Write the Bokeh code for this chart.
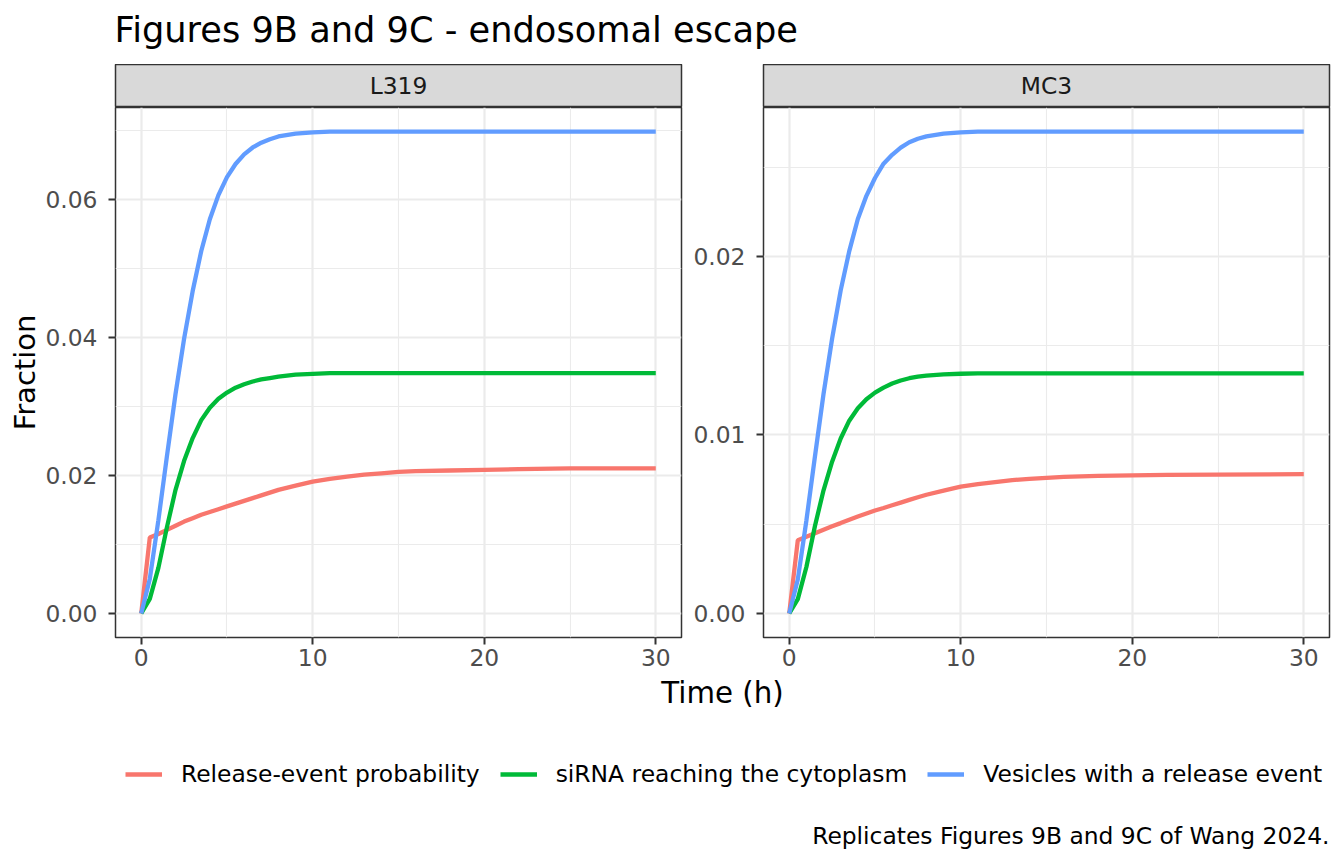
from bokeh.plotting import figure
from bokeh.layouts import column, row
from bokeh.models import (Range1d, FixedTicker, PrintfTickFormatter, Label,
                          Legend, LegendItem)
from bokeh.embed import file_html
from bokeh.resources import INLINE

# ---------------- data ----------------
time_h = [0, 0.5, 1, 1.5, 2, 2.5, 3, 3.5, 4, 4.5, 5, 5.5, 6, 6.5, 7, 7.5, 8,
          9, 10, 11, 12, 13, 14, 15, 16, 18, 20, 22, 25, 30]

series_names = ["Release-event probability", "siRNA reaching the cytoplasm",
                "Vesicles with a release event"]
series_colors = ["#F8766D", "#00BA38", "#619CFF"]
panel_names = ["L319", "MC3"]

l319_release = [0, 0.0110, 0.0115, 0.0121, 0.0127, 0.0133, 0.0138, 0.0143, 0.0147,
                0.0151, 0.0155, 0.0159, 0.0163, 0.0167, 0.0171, 0.0175, 0.0179,
                0.0185, 0.0191, 0.0195, 0.0198, 0.0201, 0.0203, 0.0205, 0.0206,
                0.0207, 0.0208, 0.0209, 0.0210, 0.0210]
l319_sirna = [0, 0.0021, 0.0066, 0.0125, 0.0179, 0.0221, 0.0254, 0.0280, 0.0298,
              0.0311, 0.0320, 0.0327, 0.0332, 0.0336, 0.0339, 0.0341, 0.0343,
              0.0346, 0.0347, 0.0348, 0.0348, 0.0348, 0.0348, 0.0348, 0.0348,
              0.0348, 0.0348, 0.0348, 0.0348, 0.0348]
l319_vesicles = [0, 0.0050, 0.0135, 0.0228, 0.0318, 0.0398, 0.0467, 0.0525, 0.0571,
                 0.0606, 0.0632, 0.0651, 0.0665, 0.0675, 0.0682, 0.0687, 0.0691,
                 0.0695, 0.0697, 0.0698, 0.0698, 0.0698, 0.0698, 0.0698, 0.0698,
                 0.0698, 0.0698, 0.0698, 0.0698, 0.0698]

mc3_release = [0, 0.00410, 0.00429, 0.00449, 0.00469, 0.00488, 0.00506, 0.00525,
               0.00543, 0.00560, 0.00577, 0.00591, 0.00606, 0.00621, 0.00636,
               0.00651, 0.00665, 0.00688, 0.00710, 0.00725, 0.00736, 0.00747,
               0.00754, 0.00760, 0.00765, 0.00771, 0.00774, 0.00776, 0.00778,
               0.00780]
mc3_sirna = [0, 0.0008, 0.0026, 0.0049, 0.0069, 0.0085, 0.0098, 0.0108, 0.0115,
             0.01200, 0.01237, 0.01265, 0.01288, 0.01305, 0.01318, 0.01327,
             0.01333, 0.01340, 0.01343, 0.01345, 0.01345, 0.01345, 0.01345,
             0.01345, 0.01345, 0.01345, 0.01345, 0.01345, 0.01345, 0.01345]
mc3_vesicles = [0, 0.0019, 0.0052, 0.0088, 0.0123, 0.0154, 0.0181, 0.0203, 0.0221,
                0.0234, 0.0244, 0.0252, 0.0257, 0.0261, 0.0264, 0.0266, 0.02673,
                0.02688, 0.02696, 0.0270, 0.0270, 0.0270, 0.0270, 0.0270, 0.0270,
                0.0270, 0.0270, 0.0270, 0.0270, 0.0270]

x_ticks = [0, 10, 20, 30]
x_minor = [5, 15, 25]
l319_yticks = [0.00, 0.02, 0.04, 0.06]
l319_yminor = [0.01, 0.03, 0.05, 0.07]
mc3_yticks = [0.00, 0.01, 0.02]
mc3_yminor = [0.005, 0.015, 0.025]

title_text = "Figures 9B and 9C - endosomal escape"
x_title = "Time (h)"
y_title = "Fraction"
caption_text = "Replicates Figures 9B and 9C of Wang 2024."

# ---------------- style ----------------
FONT = "DejaVu Sans"
SMALL = "23.4px"
TOTAL_W = 1336
TITLE_H = 64
STRIP_H = 43
PANEL_H = 569
BOTTOM_H = 856 - TITLE_H - STRIP_H - PANEL_H
LEFT_W, RIGHT_W = 689, 647
LEFT_BL, LEFT_BR = 115, 8
RIGHT_BL, RIGHT_BR = 74, 7


def strip_fig(name, width, bl, br):
    s = figure(width=width, height=STRIP_H, title=None, toolbar_location=None,
               output_backend="svg", x_axis_type=None, y_axis_type=None,
               x_range=Range1d(0, 1), y_range=Range1d(0, 1),
               min_border_left=bl, min_border_right=br, min_border_top=0,
               min_border_bottom=0)
    s.background_fill_color = "#D9D9D9"
    s.border_fill_color = "white"
    s.outline_line_color = "#333333"
    s.outline_line_width = 1.5
    s.add_layout(Label(x=0.5, y=0.5, text=name, text_align="center",
                       text_baseline="middle", text_font=FONT,
                       text_font_size=SMALL, text_color="#1A1A1A"))
    return s


def panel_fig(series, yticks, yminor, width, bl, br, ylabel=None):
    allv = [v for s in series for v in s]
    ymin, ymax = min(allv), max(allv)
    ypad = 0.05 * (ymax - ymin)
    xmin, xmax = min(time_h), max(time_h)
    xpad = 0.05 * (xmax - xmin)
    p = figure(width=width, height=PANEL_H, title=None, toolbar_location=None,
               output_backend="svg",
               x_range=Range1d(xmin - xpad, xmax + xpad),
               y_range=Range1d(ymin - ypad, ymax + ypad),
               min_border_left=bl, min_border_right=br, min_border_top=0,
               min_border_bottom=39)
    p.background_fill_color = "white"
    p.border_fill_color = "white"
    p.outline_line_color = "#333333"
    p.outline_line_width = 1.5

    p.xaxis.ticker = FixedTicker(ticks=x_ticks, minor_ticks=x_minor)
    p.yaxis.ticker = FixedTicker(ticks=yticks, minor_ticks=yminor)
    p.yaxis.formatter = PrintfTickFormatter(format="%.2f")
    for g in (p.xgrid, p.ygrid):
        g.grid_line_color = "#EBEBEB"
        g.grid_line_width = 2.2
        g.minor_grid_line_color = "#EBEBEB"
        g.minor_grid_line_width = 1.1
    for ax in (p.xaxis, p.yaxis):
        ax.axis_line_color = None
        ax.minor_tick_line_color = None
        ax.major_tick_line_color = "#333333"
        ax.major_tick_line_width = 2
        ax.major_tick_out = 7
        ax.major_tick_in = 0
        ax.major_label_text_font = FONT
        ax.major_label_text_font_size = SMALL
        ax.major_label_text_color = "#4D4D4D"
    p.yaxis.major_label_standoff = 11
    p.xaxis.major_label_standoff = 4
    if ylabel:
        p.yaxis.axis_label = ylabel
        p.yaxis.axis_label_text_font = FONT
        p.yaxis.axis_label_text_font_size = "29px"
        p.yaxis.axis_label_text_font_style = "normal"
        p.yaxis.axis_label_text_color = "black"
        p.yaxis.axis_label_standoff = 0

    for s, c in zip(series, series_colors):
        p.line(time_h, s, line_color=c, line_width=4.3)
    return p


# ---------------- title ----------------
t = figure(width=TOTAL_W, height=TITLE_H, title=None, toolbar_location=None,
           output_backend="svg", x_axis_type=None, y_axis_type=None,
           x_range=Range1d(0, TOTAL_W), y_range=Range1d(0, TITLE_H), min_border=0)
t.outline_line_color = None
t.add_layout(Label(x=114, y=TITLE_H - 29, text=title_text, text_font=FONT,
                   text_font_size="35.2px", text_baseline="middle",
                   text_align="left", text_color="black"))

# ---------------- panels ----------------
s1 = strip_fig(panel_names[0], LEFT_W, LEFT_BL, LEFT_BR)
s2 = strip_fig(panel_names[1], RIGHT_W, RIGHT_BL, RIGHT_BR)
p1 = panel_fig([l319_release, l319_sirna, l319_vesicles], l319_yticks, l319_yminor,
               LEFT_W, LEFT_BL, LEFT_BR, ylabel=y_title)
p2 = panel_fig([mc3_release, mc3_sirna, mc3_vesicles], mc3_yticks, mc3_yminor,
               RIGHT_W, RIGHT_BL, RIGHT_BR)

# ---------------- bottom: x title, legend, caption ----------------
b = figure(width=TOTAL_W, height=BOTTOM_H, title=None, toolbar_location=None,
           output_backend="svg", x_axis_type=None, y_axis_type=None,
           x_range=Range1d(0, TOTAL_W), y_range=Range1d(0, BOTTOM_H), min_border=0)
b.outline_line_color = None
b.add_layout(Label(x=722, y=BOTTOM_H - 16, text=x_title, text_font=FONT,
                   text_font_size="29.3px", text_align="center",
                   text_baseline="middle", text_color="black"))
b.add_layout(Label(x=1329, y=21, text=caption_text, text_font=FONT,
                   text_font_size=SMALL, text_align="right",
                   text_baseline="middle", text_color="black"))
# legend keys: one-point (invisible) line renderers styled like the data lines
items = []
for name, c, s in zip(series_names, series_colors,
                      [l319_release, l319_sirna, l319_vesicles]):
    r = b.line(x=[time_h[0]], y=[s[0]], line_color=c, line_width=4.3)
    items.append(LegendItem(label=name, renderers=[r]))
leg = Legend(items=items, orientation="horizontal", location=(125, 68),
             glyph_width=37, glyph_height=20, label_height=20,
             label_standoff=19, spacing=20, padding=0, margin=0,
             label_text_font=FONT, label_text_font_size=SMALL,
             label_text_color="black", border_line_color=None,
             background_fill_alpha=0)
b.add_layout(leg)

layout = column(t, row(column(s1, p1), column(s2, p2)), b)

open("out.html", "w").write(file_html(layout, INLINE))
